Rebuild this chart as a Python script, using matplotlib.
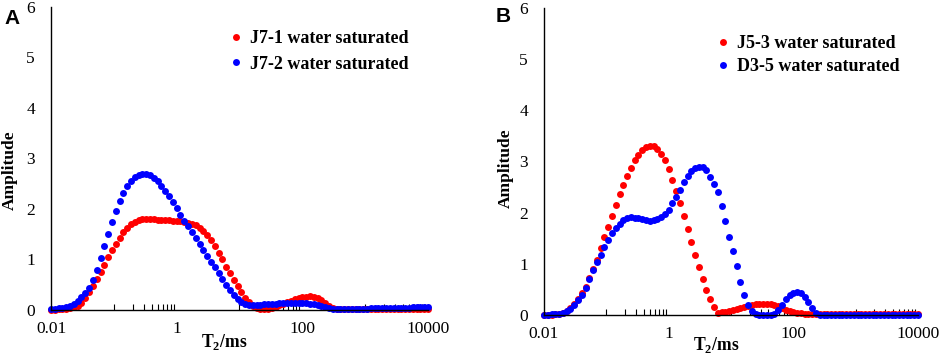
import matplotlib
matplotlib.use('Agg')
import matplotlib.pyplot as plt
from matplotlib.ticker import NullFormatter
import numpy as np

plt.rcParams['font.family'] = 'Liberation Serif'
plt.rcParams['mathtext.fontset'] = 'custom'
plt.rcParams['mathtext.rm'] = 'Liberation Serif'
plt.rcParams['mathtext.bf'] = 'Liberation Serif:bold'

# T2 relaxation bins (ms), 100 log-spaced bins from 0.01 to 10000
t2 = np.logspace(-2, 4, 100)

j7_1 = [0.00, 0.00, 0.01, 0.01, 0.02, 0.03, 0.05, 0.08, 0.14, 0.24,
        0.35, 0.47, 0.62, 0.76, 0.90, 1.04, 1.18, 1.31, 1.43, 1.54,
        1.63, 1.70, 1.75, 1.78, 1.80, 1.80, 1.80, 1.80, 1.79, 1.79,
        1.78, 1.78, 1.77, 1.77, 1.76, 1.75, 1.73, 1.71, 1.68, 1.63,
        1.56, 1.49, 1.38, 1.26, 1.13, 1.00, 0.86, 0.73, 0.60, 0.47,
        0.35, 0.24, 0.15, 0.08, 0.04, 0.02, 0.01, 0.02, 0.04, 0.06,
        0.09, 0.12, 0.15, 0.18, 0.21, 0.23, 0.25, 0.26, 0.27, 0.26,
        0.24, 0.20, 0.14, 0.08, 0.04, 0.02, 0.01, 0.01, 0.01, 0.01,
        0.01, 0.01, 0.01, 0.01, 0.01, 0.01, 0.01, 0.01, 0.01, 0.01,
        0.01, 0.01, 0.01, 0.01, 0.01, 0.02, 0.02, 0.02, 0.02, 0.02]

j7_2 = [0.02, 0.02, 0.03, 0.04, 0.05, 0.07, 0.11, 0.17, 0.25, 0.34,
        0.44, 0.60, 0.80, 1.03, 1.27, 1.51, 1.75, 1.97, 2.16, 2.32,
        2.46, 2.56, 2.63, 2.68, 2.70, 2.70, 2.67, 2.62, 2.55, 2.46,
        2.36, 2.25, 2.13, 2.01, 1.89, 1.77, 1.66, 1.55, 1.43, 1.31,
        1.19, 1.07, 0.96, 0.85, 0.74, 0.62, 0.50, 0.39, 0.29, 0.21,
        0.15, 0.12, 0.10, 0.10, 0.10, 0.10, 0.11, 0.11, 0.12, 0.12,
        0.13, 0.13, 0.14, 0.14, 0.14, 0.14, 0.14, 0.13, 0.12, 0.11,
        0.09, 0.07, 0.05, 0.03, 0.02, 0.02, 0.02, 0.02, 0.02, 0.02,
        0.02, 0.02, 0.02, 0.02, 0.03, 0.03, 0.03, 0.03, 0.03, 0.03,
        0.03, 0.03, 0.04, 0.04, 0.04, 0.05, 0.05, 0.05, 0.06, 0.06]

j5_3 = [0.00, 0.00, 0.00, 0.01, 0.02, 0.04, 0.08, 0.14, 0.22, 0.31,
        0.42, 0.55, 0.72, 0.90, 1.08, 1.30, 1.52, 1.72, 1.93, 2.14,
        2.36, 2.55, 2.72, 2.88, 3.02, 3.13, 3.22, 3.28, 3.31, 3.30,
        3.25, 3.15, 3.02, 2.85, 2.63, 2.42, 2.18, 1.93, 1.69, 1.43,
        1.17, 0.93, 0.70, 0.49, 0.32, 0.16, 0.04, 0.05, 0.06, 0.08,
        0.10, 0.12, 0.14, 0.16, 0.18, 0.20, 0.21, 0.22, 0.22, 0.22,
        0.21, 0.20, 0.18, 0.14, 0.10, 0.07, 0.05, 0.04, 0.03, 0.02,
        0.01, 0.01, 0.01, 0.01, 0.01, 0.01, 0.01, 0.01, 0.01, 0.01,
        0.01, 0.01, 0.01, 0.01, 0.01, 0.01, 0.01, 0.01, 0.01, 0.01,
        0.01, 0.01, 0.01, 0.01, 0.01, 0.01, 0.01, 0.01, 0.01, 0.01]

d3_5 = [0.00, 0.00, 0.01, 0.01, 0.02, 0.04, 0.07, 0.12, 0.20, 0.30,
        0.40, 0.53, 0.70, 0.87, 1.03, 1.17, 1.33, 1.47, 1.60, 1.70,
        1.78, 1.85, 1.89, 1.91, 1.90, 1.89, 1.87, 1.85, 1.84, 1.85,
        1.87, 1.91, 1.97, 2.06, 2.18, 2.31, 2.45, 2.59, 2.71, 2.81,
        2.87, 2.90, 2.90, 2.84, 2.70, 2.56, 2.40, 2.13, 1.83, 1.53,
        1.25, 0.95, 0.65, 0.40, 0.20, 0.07, 0.01, 0.00, 0.00, 0.00,
        0.00, 0.02, 0.10, 0.20, 0.31, 0.39, 0.43, 0.45, 0.42, 0.36,
        0.26, 0.14, 0.04, 0.00, 0.00, 0.00, 0.00, 0.00, 0.00, 0.00,
        0.00, 0.00, 0.00, 0.00, 0.00, 0.00, 0.00, 0.00, 0.00, 0.00,
        0.00, 0.00, 0.00, 0.00, 0.00, 0.00, 0.00, 0.00, 0.00, 0.00]

panels = [
    ('A', [j7_1, j7_2], ['J7-1 water saturated', 'J7-2 water saturated'],
     [0.0542, 0.1243, 0.4006, 0.8560], (0.477, 0.924), 0.48, (0.46, -0.072), (-0.088, 0.462)),
    ('B', [j5_3, d3_5], ['J5-3 water saturated', 'D3-5 water saturated'],
     [0.5781, 0.1102, 0.3974, 0.8672], (0.465, 0.912), 0.33, (0.46, -0.066), (-0.080, 0.479)),
]
colors = ['#ff0000', '#0000ff']

fig = plt.figure(figsize=(9.41, 3.54), dpi=100)

for letter, series, names, rect, leg_xy, lspace, xl_xy, yl_xy in panels:
    ax = fig.add_axes(rect)
    for ys, c, n in zip(series, colors, names):
        ax.plot(t2, ys, 'o', color=c, markersize=5.0, markeredgewidth=0,
                label=n, clip_on=False)
    ax.set_xscale('log')
    ax.set_xlim(0.01, 10000)
    ax.set_ylim(0, 6)
    ax.set_xticks([0.01, 1, 100, 10000])
    ax.set_xticklabels(['0.01', '1', '100', '10000'])
    minors = [n * 10.0 ** k for k in (-1, 1, 3) for n in range(1, 10)]
    ax.set_xticks(minors, minor=True)
    ax.xaxis.set_minor_formatter(NullFormatter())
    ax.tick_params(axis='x', which='major', length=0, pad=8, labelsize=12.5)
    ax.tick_params(axis='x', which='minor', direction='in', length=4, width=0.8)
    ax.set_yticks(range(0, 7))
    ax.tick_params(axis='y', length=0, pad=11.5, labelsize=12.5)
    for s in ['top', 'right']:
        ax.spines[s].set_visible(False)
    for s in ['left', 'bottom']:
        ax.spines[s].set_linewidth(1.0)
    ax.set_xlabel(r'T$_\mathbf{2}$/ms', fontsize=12.7, fontweight='bold')
    ax.xaxis.set_label_coords(*xl_xy)
    ax.set_ylabel('Amplitude', fontsize=12.5, fontweight='bold')
    ax.yaxis.set_label_coords(*yl_xy)
    ax.legend(loc='upper left', bbox_to_anchor=leg_xy, frameon=False,
              borderpad=0, borderaxespad=0, handlelength=0.6, handletextpad=0.45,
              labelspacing=lspace, prop={'family': 'Liberation Serif', 'weight': 'bold', 'size': 13})

fig.text(0.005, 0.975, 'A', fontsize=15, fontweight='bold', family='Liberation Sans', va='top')
fig.text(0.527, 0.98, 'B', fontsize=15, fontweight='bold', family='Liberation Sans', va='top')

fig.savefig('out.png', dpi=100)
